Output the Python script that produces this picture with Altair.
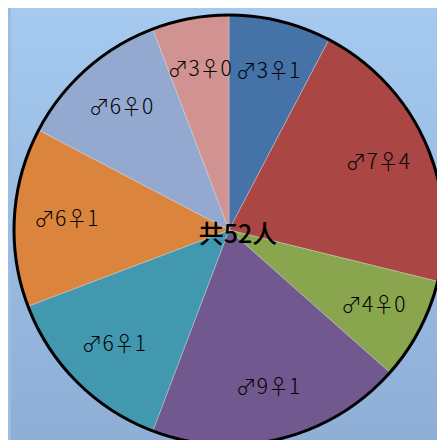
import altair as alt
import pandas as pd

# data (clockwise from 12 o'clock)
labels = ["♂3♀1", "♂7♀4", "♂4♀0", "♂9♀1", "♂6♀1", "♂6♀1", "♂6♀0", "♂3♀0"]
counts = [4, 11, 4, 10, 7, 7, 6, 3]
colors = ["#4572a7", "#aa4643", "#89a54e", "#71588f", "#4198af", "#db843d", "#93a9cf", "#d19392"]
center_text = "共52人"

df = pd.DataFrame({
    "idx": list(range(len(labels))),
    "label": labels,
    "count": counts,
})

W, H = 429, 432
CX, CY = 216, 220
R = 215

bg = alt.Chart(pd.DataFrame({"a": [0]})).mark_rect(
    fill=alt.Gradient(
        gradient="linear",
        x1=0, y1=0, x2=0, y2=1,
        stops=[alt.GradientStop(color="#a5c9ef", offset=0),
               alt.GradientStop(color="#8eaed6", offset=1)],
    )
).encode(x=alt.value(-2), x2=alt.value(W + 2), y=alt.value(-2), y2=alt.value(H + 2))

base = alt.Chart(df).encode(
    theta=alt.Theta("count:Q", stack=True),
    order=alt.Order("idx:O"),
)

pie = base.mark_arc(outerRadius=R, stroke="#e8e8e8", strokeWidth=0.6, strokeOpacity=0.6).encode(
    color=alt.Color("idx:N", scale=alt.Scale(domain=list(range(len(labels))), range=colors), legend=None),
    x=alt.value(CX), y=alt.value(CY),
)

text = base.mark_text(radius=163, font="Noto Sans CJK JP", fontSize=21, fontWeight=300,
                      color="black").encode(
    text="label:N",
    x=alt.value(CX), y=alt.value(CY),
)

ring = alt.Chart(pd.DataFrame({"a": [0]})).mark_arc(
    outerRadius=R, theta=0, theta2=6.2832, filled=False, fill=None,
    stroke="black", strokeWidth=3,
).encode(x=alt.value(CX), y=alt.value(CY))

center = alt.Chart(pd.DataFrame({"t": [center_text]})).mark_text(
    font="Noto Sans CJK SC", fontSize=25, fontWeight=500, color="black"
).encode(text="t:N", x=alt.value(CX + 9), y=alt.value(CY + 5))

chart = alt.layer(bg, pie, ring, text, center).properties(
    width=W, height=H,
    autosize=alt.AutoSizeParams(type="fit", contains="padding"),
    padding=0,
).configure_view(stroke=None).configure(background="#9bbde3")

chart.save("out.html", embed_options={"renderer": "svg", "actions": False})
